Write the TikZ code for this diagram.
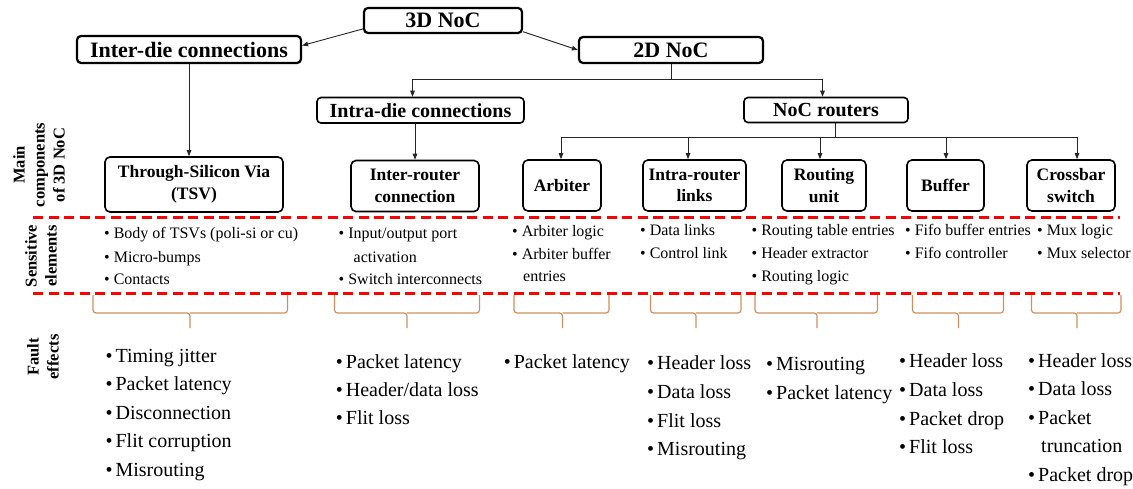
\documentclass[tikz,border=0pt]{standalone}
\usepackage{fontspec}
\setmainfont{Liberation Serif}
\usetikzlibrary{arrows.meta}
\definecolor{bracecol}{RGB}{205,145,95}
\newcommand{\bulS}{\textbullet\ }
\newcommand{\bulF}{\textbullet\hspace{3pt}}
\begin{document}
\begin{tikzpicture}[x=1pt,y=-1pt,
  topbox/.style={draw, line width=2.2pt, rounded corners=4pt, inner sep=0pt,
    font=\fontsize{22}{26}\selectfont\bfseries},
  midbox/.style={draw, line width=1.6pt, rounded corners=4pt, inner sep=0pt,
    font=\fontsize{20}{24}\selectfont\bfseries},
  compbox/.style={draw, line width=1.6pt, rounded corners=5pt, inner sep=0pt,
    align=center, font=\fontsize{17.5}{21.5}\selectfont\bfseries},
  conn/.style={draw=black!85, line width=0.9pt},
  arr/.style={conn, -{Triangle[length=6pt,width=4.5pt]}},
  sepline/.style={draw=red, line width=2.4pt, dash pattern=on 10pt off 5.5pt},
  sens/.style={inner sep=0pt, anchor=base west, font=\fontsize{16}{19}\selectfont},
  fault/.style={inner sep=0pt, anchor=base west, font=\fontsize{20}{24}\selectfont},
  rowlabel/.style={rotate=90, align=center, inner sep=0pt,
    font=\fontsize{16.5}{20}\selectfont\bfseries},
  bracket/.style={draw=bracecol, line width=1.2pt, rounded corners=3pt}
]
\useasboundingbox[fill=white] (0,0) rectangle (1133,489);

% hierarchy boxes
\node[topbox, minimum width=158pt, minimum height=25pt] (noc3d) at (443,20.5) {3D NoC};
\node[topbox, minimum width=224pt, minimum height=27pt] (interdie) at (189,49.5) {Inter-die connections};
\node[topbox, minimum width=184pt, minimum height=26pt] (noc2d) at (671,50) {2D NoC};
\node[midbox, minimum width=207pt, minimum height=25.5pt] (intradie) at (420.5,110.3) {Intra-die connections};
\node[midbox, minimum width=164pt, minimum height=25pt] (routers) at (826,110) {NoC routers};

% main components
\node[compbox, minimum width=178pt, minimum height=55pt] (tsv) at (194,184.5) {Through-Silicon Via\\(TSV)};
\node[compbox, minimum width=128pt, minimum height=51pt] (ir) at (415,186) {Inter-router\\connection};
\node[compbox, minimum width=78pt, minimum height=51pt] (arb) at (562,185.5) {Arbiter};
\node[compbox, minimum width=103pt, minimum height=51pt] (irl) at (694.5,185.5) {Intra-router\\links};
\node[compbox, minimum width=84pt, minimum height=51pt] (ru) at (824,185.5) {Routing\\unit};
\node[compbox, minimum width=77pt, minimum height=51pt] (buf) at (945.5,185.5) {Buffer};
\node[compbox, minimum width=88pt, minimum height=51pt] (xbar) at (1071,185.5) {Crossbar\\switch};

% connectors
\draw[arr] (noc3d.186) -- (interdie.2);
\draw[arr] (noc3d.352) -- (noc2d.west);
\draw[arr] (interdie.south) -- (interdie.south |- tsv.north);

\coordinate (aL) at (412.5,79);
\coordinate (aR) at (822.5,79);
\draw[conn] (noc2d.south) -- (noc2d.south |- aL);
\draw[conn] (aL) -- (aR);
\draw[arr] (aL) -- (aL |- intradie.north);
\draw[arr] (aR) -- (aR |- routers.north);
\draw[arr] (intradie.south -| ir.north) -- (ir.north);

\coordinate (stem) at (835.5,137);
\draw[conn] (stem |- routers.south) -- (stem);
\coordinate (tarb) at (561,137);
\coordinate (tirl) at (688,137);
\coordinate (tru) at (820,137);
\coordinate (tbuf) at (946,137);
\coordinate (txbar) at (1077,137);
\draw[conn] (tarb) -- (txbar);
\foreach \n in {arb,irl,ru,buf,xbar}
  \draw[arr] (t\n) -- (t\n |- \n.north);

% row separators
\draw[sepline] (33,217.5) -- (1120,217.5);
\draw[sepline] (33,293.5) -- (1120,293.5);

% row labels
\node[rowlabel] (lblmain) at (39,165) {Main\\components\\of 3D NoC};
\node[rowlabel] (lblsens) at (41,256) {Sensitive\\elements};
\node[rowlabel] (lblfault) at (43,357) {Fault\\effects};

% sensitive elements
\node[sens] (s11) at (104,239) {\bulS Body of TSVs (poli-si or cu)};
\node[sens] (s12) at (104,262) {\bulS Micro-bumps};
\node[sens] (s13) at (104,284) {\bulS Contacts};
\node[sens] (s21) at (338.5,239) {\bulS Input/output port};
\node[sens] (s22) at (353.5,262) {activation};
\node[sens] (s23) at (338.5,284) {\bulS Switch interconnects};
\node[sens] (s31) at (512,237) {\bulS Arbiter logic};
\node[sens] (s32) at (512,260) {\bulS Arbiter buffer};
\node[sens] (s33) at (523,282) {entries};
\node[sens] (s41) at (640,236) {\bulS Data links};
\node[sens] (s42) at (640,259) {\bulS Control link};
\node[sens] (s51) at (751.5,236) {\bulS Routing table entries};
\node[sens] (s52) at (751.5,259) {\bulS Header extractor};
\node[sens] (s53) at (751.5,281) {\bulS Routing logic};
\node[sens] (s61) at (905,236) {\bulS Fifo buffer entries};
\node[sens] (s62) at (905,259) {\bulS Fifo controller};
\node[sens] (s71) at (1037,236) {\bulS Mux logic};
\node[sens] (s72) at (1037,259) {\bulS Mux selector};

% braces
\foreach \l/\t/\r in {93/190/287.5, 334.5/407/479.5, 514/562.5/609, 650.5/696/741,
                      755/817/877.5, 912.5/958.5/1003.5, 1031.5/1077/1121}{
  \draw[bracket] (\l,295) |- (\t,313) -- (\t,328);
  \draw[bracket] (\r,295) |- (\t,313);
}

% fault effects
\node[fault] (f11) at (105.4,362) {\bulF Timing jitter};
\node[fault] (f12) at (105.4,390.5) {\bulF Packet latency};
\node[fault] (f13) at (105.4,419) {\bulF Disconnection};
\node[fault] (f14) at (105.4,447.5) {\bulF Flit corruption};
\node[fault] (f15) at (105.4,476) {\bulF Misrouting};
\node[fault] (f21) at (335.7,368) {\bulF Packet latency};
\node[fault] (f22) at (335.7,396.3) {\bulF Header/data loss};
\node[fault] (f23) at (335.7,424.3) {\bulF Flit loss};
\node[fault] (f31) at (503.6,368) {\bulF Packet latency};
\node[fault] (f41) at (647,369.3) {\bulF Header loss};
\node[fault] (f42) at (647,398) {\bulF Data loss};
\node[fault] (f43) at (647,427) {\bulF Flit loss};
\node[fault] (f44) at (647,455.3) {\bulF Misrouting};
\node[fault] (f51) at (766,370.3) {\bulF Misrouting};
\node[fault] (f52) at (766,399.7) {\bulF Packet latency};
\node[fault] (f61) at (899,367.7) {\bulF Header loss};
\node[fault] (f62) at (899,396.3) {\bulF Data loss};
\node[fault] (f63) at (899,425.3) {\bulF Packet drop};
\node[fault] (f64) at (899,453.7) {\bulF Flit loss};
\node[fault] (f71) at (1028,367) {\bulF Header loss};
\node[fault] (f72) at (1028,395.3) {\bulF Data loss};
\node[fault] (f73) at (1028,424.3) {\bulF Packet};
\node[fault] (f74) at (1041,452.7) {truncation};
\node[fault] (f75) at (1028,481.3) {\bulF Packet drop};
\end{tikzpicture}
\end{document}
